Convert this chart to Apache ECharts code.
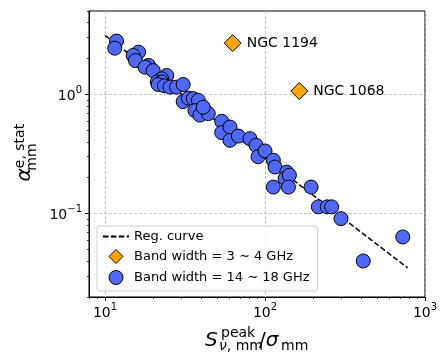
<!DOCTYPE html>
<html>
<head>
<meta charset="utf-8">
<script src="https://cdn.jsdelivr.net/npm/echarts@6/dist/echarts.min.js"></script>
<style>
  html, body { margin: 0; padding: 0; background: #fff; }
  #chart { width: 447px; height: 358px; }
</style>
</head>
<body>
<div id="chart"></div>
<script>
// regression curve end points
const regX = [10, 780];
const regY = [3.12, 0.035];

// 3~4 GHz sources
const narrowNames = ['NGC 1194', 'NGC 1068'];
const narrowX = [62.8, 163.8];
const narrowY = [2.69, 1.066];

// 14~18 GHz sources
const wideX = [11.8, 11.5, 16.2, 15.0, 15.5, 18.7, 17.8, 20.0, 24.3, 22.6,
  21.2, 22.6, 21.5, 23.5, 25.5, 28.0, 30.8, 30.8, 33.2, 35.6,
  38.3, 36.5, 39.2, 44.2, 41.1, 53.6, 53.6, 60.4, 60.4, 68.1,
  80.5, 87.9, 90.5, 100, 112.7, 115.5, 136.8, 133.4, 142, 112.7,
  140, 194, 215.4, 245, 261, 298.5, 726, 411];
const wideY = [2.80, 2.44, 2.26, 2.12, 1.92, 1.75, 1.69, 1.58, 1.44, 1.35,
  1.27, 1.27, 1.21, 1.18, 1.15, 1.15, 1.21, 0.87, 0.93, 0.92,
  0.89, 0.73, 0.67, 0.69, 0.78, 0.594, 0.478, 0.532, 0.412, 0.447,
  0.425, 0.374, 0.300, 0.335, 0.280, 0.246, 0.223, 0.197, 0.210, 0.167,
  0.167, 0.167, 0.114, 0.114, 0.114, 0.0908, 0.0637, 0.0401];

// ticks
const xMajor = [10, 100, 1000];
const xMinor = [8, 9, 20, 30, 40, 50, 60, 70, 80, 90, 200, 300, 400, 500, 600, 700, 800, 900];
const yMajor = [0.1, 1];
const yMinor = [0.02, 0.03, 0.04, 0.05, 0.06, 0.07, 0.08, 0.09,
  0.2, 0.3, 0.4, 0.5, 0.6, 0.7, 0.8, 0.9, 2, 3, 4, 5];

const FONT = 'DejaVu Sans';
const chart = echarts.init(document.getElementById('chart'));

function powLabel(v) {
  const e = Math.round(Math.log10(v));
  const sup = e < 0 ? '\u2212' + (-e) : String(e);
  return '{b|10}{s|' + sup + '}';
}
const labelRich = {
  b: {fontSize: 14, fontFamily: FONT, color: '#000', lineHeight: 18, verticalAlign: 'bottom'},
  s: {fontSize: 10, fontFamily: FONT, color: '#000', lineHeight: 10, verticalAlign: 'top'}
};
const gridLine = {show: true, lineStyle: {color: '#b8b8b8', type: [3, 2], width: 0.8}};

function minorAxis(min, max, vals, gridIndex) {
  return {
    type: 'log', logBase: 10, min: min, max: max, gridIndex: gridIndex,
    axisLine: {show: false},
    axisLabel: {show: false},
    splitLine: {show: false},
    axisTick: {show: true, length: 2, customValues: vals, lineStyle: {color: '#000', width: 0.8}}
  };
}

const gridRect = {left: 89, right: 22, top: 11, bottom: 61};
const names = ['Reg. curve', 'Band width = 3 \u223c 4 GHz', 'Band width = 14 \u223c 18 GHz'];
// legend diamond kept square inside the 26x14 icon box (the bare moves set the box)
const legendDiamond = 'path://M0,0M26,15M13,0L20.5,7.5L13,15L5.5,7.5Z';

const option = {
  animation: false,
  textStyle: {fontFamily: FONT},
  grid: [
    Object.assign({show: true, borderColor: '#000', borderWidth: 1, backgroundColor: '#fff'}, gridRect),
    Object.assign({}, gridRect)
  ],
  xAxis: [
    {
      type: 'log', logBase: 10, min: 7.94, max: 1000, gridIndex: 0,
      axisLine: {show: true, lineStyle: {color: '#000', width: 1}},
      axisTick: {show: true, length: 4, customValues: xMajor, lineStyle: {color: '#000', width: 1}},
      axisLabel: {customValues: xMajor, formatter: powLabel, rich: labelRich, margin: 5},
      splitLine: gridLine
    },
    minorAxis(7.94, 1000, xMinor, 1)
  ],
  yAxis: [
    {
      type: 'log', logBase: 10, min: 0.02, max: 5, gridIndex: 0,
      axisLine: {show: true, lineStyle: {color: '#000', width: 1}},
      axisTick: {show: true, length: 4, customValues: yMajor, lineStyle: {color: '#000', width: 1}},
      axisLabel: {customValues: yMajor, formatter: powLabel, rich: labelRich, margin: 7},
      splitLine: gridLine
    },
    minorAxis(0.02, 5, yMinor, 1)
  ],
  legend: {
    orient: 'vertical',
    left: 97, top: 226,
    padding: [4, 8, 6, 5],
    itemGap: 6,
    itemWidth: 26,
    itemHeight: 14,
    backgroundColor: 'rgba(255,255,255,0.8)',
    borderColor: '#cccccc',
    borderWidth: 1,
    borderRadius: 3,
    textStyle: {fontSize: 13, fontFamily: FONT, color: '#000'},
    data: [
      {name: names[0], itemStyle: {color: 'transparent', borderWidth: 0, opacity: 0}},
      {name: names[1], icon: legendDiamond, itemStyle: {borderWidth: 1}},
      {name: names[2], itemStyle: {borderWidth: 1}}
    ]
  },
  series: [
    {
      name: names[0],
      type: 'line',
      symbol: 'none',
      z: 2,
      itemStyle: {color: '#000'},
      lineStyle: {color: '#000', width: 1.5, type: [5.5, 2.4]},
      data: regX.map((x, i) => [x, regY[i]])
    },
    {
      name: names[1],
      type: 'scatter',
      symbol: 'diamond',
      symbolSize: 17,
      z: 4,
      itemStyle: {color: '#ffa500', borderColor: '#000', borderWidth: 1, opacity: 1},
      label: {show: true, position: 'right', distance: 5, formatter: '{b}', fontSize: 14, fontFamily: FONT, color: '#000'},
      data: narrowX.map((x, i) => ({name: narrowNames[i], value: [x, narrowY[i]]}))
    },
    {
      name: names[2],
      type: 'scatter',
      symbol: 'circle',
      symbolSize: 14,
      z: 3,
      itemStyle: {color: '#5068f8', borderColor: '#000', borderWidth: 1, opacity: 1},
      data: wideX.map((x, i) => [x, wideY[i]])
    }
  ],
  graphic: [
    // x axis title
    {type: 'text', x: 205, y: 341, style: {text: 'S', font: 'italic 20px ' + FONT, fill: '#000', textVerticalAlign: 'middle'}},
    {type: 'text', x: 221, y: 333, style: {text: 'peak', font: '14px ' + FONT, fill: '#000', textVerticalAlign: 'middle'}},
    {type: 'text', x: 219, y: 346, style: {text: '{i|\u03bd}, mm', font: '14px ' + FONT, fill: '#000', textVerticalAlign: 'middle',
      rich: {i: {fontStyle: 'italic', fontSize: 14, fontFamily: FONT}}}},
    {type: 'text', x: 259, y: 341, style: {text: '/{i|\u03c3}', font: '20px ' + FONT, fill: '#000', textVerticalAlign: 'middle',
      rich: {i: {fontStyle: 'italic', fontSize: 20, fontFamily: FONT}}}},
    {type: 'text', x: 281, y: 346, style: {text: 'mm', font: '14px ' + FONT, fill: '#000', textVerticalAlign: 'middle'}},
    // y axis title
    {type: 'text', x: 25, y: 175, rotation: Math.PI / 2, style: {text: '\u03b1', font: 'italic 20px ' + FONT, fill: '#000', textAlign: 'center', textVerticalAlign: 'middle'}},
    {type: 'text', x: 20, y: 146, rotation: Math.PI / 2, style: {text: 'e, stat', font: '14px ' + FONT, fill: '#000', textAlign: 'center', textVerticalAlign: 'middle'}},
    {type: 'text', x: 32, y: 157, rotation: Math.PI / 2, style: {text: 'mm', font: '14px ' + FONT, fill: '#000', textAlign: 'center', textVerticalAlign: 'middle'}}
  ]
};

chart.setOption(option);
</script>
</body>
</html>
